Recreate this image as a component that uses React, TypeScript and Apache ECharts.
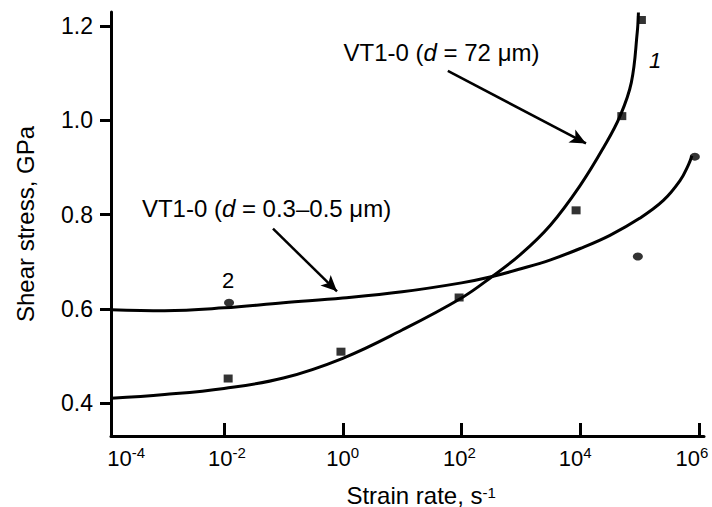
import React, { useEffect, useRef } from "react";
import * as echarts from "echarts";

// x values are log10(strain rate, s^-1); y values are shear stress, GPa
const xTickExponents = [-4, -2, 0, 2, 4, 6];
const yTickValues = [0.4, 0.6, 0.8, 1.0, 1.2];

// curve 1: VT1-0 (d = 72 um)
const curve1LogRate = [-3.9, -3, -2, -1, 0, 1, 2, 2.5, 3, 3.5, 4, 4.4, 4.67, 4.86, 4.96, 4.98];
const curve1Stress = [0.41, 0.418, 0.431, 0.453, 0.495, 0.555, 0.623, 0.667, 0.716, 0.778, 0.862, 0.944, 1.009, 1.08, 1.187, 1.229];

// curve 2: VT1-0 (d = 0.3-0.5 um)
const curve2LogRate = [-3.9, -3, -2, -1, 0, 1, 2, 2.5, 3, 3.5, 4, 4.5, 5, 5.4, 5.68, 5.82, 5.88];
const curve2Stress = [0.598, 0.596, 0.602, 0.613, 0.623, 0.636, 0.655, 0.668, 0.685, 0.704, 0.728, 0.756, 0.792, 0.83, 0.872, 0.905, 0.925];

// measured points
const squaresLogRate = [-1.93, -0.03, 1.96, 3.93, 4.7, 5.03];
const squaresStress = [0.452, 0.509, 0.624, 0.809, 1.009, 1.213];
const circlesLogRate = [-1.915, 4.97, 5.93];
const circlesStress = [0.613, 0.711, 0.923];

// annotation arrows (data coordinates: start, tip)
const arrowCoarse = [[1.77, 1.105], [4.097, 0.951]];
const arrowFine = [[-1.175, 0.77], [-0.097, 0.637]];

// horizontal nudge of each x tick label (px), as in the reference layout
const xLabelShift: Record<string, number> = { "-4": 21, "-2": 3, "0": 0, "2": -2, "4": -5, "6": -7 };

const FONT = "Liberation Sans, Arial, Helvetica, sans-serif";
const Y_MIN = 0.33;
const Y_MAX = 1.23;
const GRID_TOP = 12;
const GRID_BOTTOM = 71;
const FRAME_LEFT = 111;
const Y_TICK_LEN = 11;

export default function App() {
  const ref = useRef<HTMLDivElement>(null);
  useEffect(() => {
    if (!ref.current) return;
    const chart = echarts.init(ref.current, null, { renderer: "svg" });
    const pairs = (xs: number[], ys: number[]) => xs.map((x, i) => [x, ys[i]]);

    const xRich: Record<string, any> = {
      b: { fontSize: 22, lineHeight: 24, fontFamily: FONT, color: "#000", verticalAlign: "bottom" },
      s: { fontSize: 15, lineHeight: 14, fontFamily: FONT, color: "#000", verticalAlign: "top" },
    };
    xTickExponents.forEach((v, i) => {
      const sh = xLabelShift[String(v)] || 0;
      if (sh !== 0) xRich["g" + i] = { width: Math.abs(sh) * 2, fontSize: 10, lineHeight: 14 };
    });
    const xFormatter = (v: number) => {
      const r = Math.round(v);
      const i = xTickExponents.indexOf(r);
      const sh = xLabelShift[String(r)] || 0;
      const core = `{b|10}{s|${r}}`;
      if (sh > 0) return `{g${i}| }` + core;
      if (sh < 0) return core + `{g${i}| }`;
      return core;
    };

    const hiddenAxis = (gridIndex: number, min: number, max: number) => ({
      type: "value",
      gridIndex,
      min,
      max,
      show: false,
      splitLine: { show: false },
    });

    const annotationTexts: any[] = [
      {
        type: "text",
        id: "t72",
        x: 441.5,
        y: 52,
        style: {
          text: "VT1-0 ({i|d} = 72 μm)",
          fontSize: 24,
          fontFamily: FONT,
          fill: "#000",
          align: "center",
          verticalAlign: "middle",
          rich: { i: { fontSize: 24, fontFamily: FONT, fontStyle: "italic", fill: "#000" } },
        },
      },
      {
        type: "text",
        id: "tfine",
        x: 266.5,
        y: 208,
        style: {
          text: "VT1-0 ({i|d} = 0.3–0.5 μm)",
          fontSize: 24,
          fontFamily: FONT,
          fill: "#000",
          align: "center",
          verticalAlign: "middle",
          rich: { i: { fontSize: 24, fontFamily: FONT, fontStyle: "italic", fill: "#000" } },
        },
      },
      {
        type: "text",
        id: "t1",
        x: 655,
        y: 60,
        style: {
          text: "1",
          fontSize: 22,
          fontFamily: FONT,
          fontStyle: "italic",
          fill: "#000",
          align: "center",
          verticalAlign: "middle",
        },
      },
      {
        type: "text",
        id: "t2",
        x: 228,
        y: 280,
        style: {
          text: "2",
          fontSize: 22,
          fontFamily: FONT,
          fill: "#000",
          align: "center",
          verticalAlign: "middle",
        },
      },
    ];

    chart.setOption({
      animation: false,
      backgroundColor: "#ffffff",
      textStyle: { fontFamily: FONT },
      grid: [
        // plotting area
        { left: 105.25, right: 13, top: GRID_TOP, bottom: GRID_BOTTOM, outerBoundsMode: "none", containLabel: false },
        // axis frame
        { left: FRAME_LEFT, right: 8, top: GRID_TOP, bottom: GRID_BOTTOM, outerBoundsMode: "none", containLabel: false },
        // strip holding the y labels and tick marks
        { left: FRAME_LEFT - Y_TICK_LEN, right: 712 - FRAME_LEFT, top: GRID_TOP, bottom: GRID_BOTTOM, outerBoundsMode: "none", containLabel: false },
      ],
      xAxis: [
        {
          type: "value",
          gridIndex: 0,
          min: -4,
          max: 6,
          interval: 2,
          axisLine: { show: false },
          axisTick: {
            show: true,
            inside: true,
            length: 13,
            lineStyle: { color: "#000", width: 3 },
            customValues: xTickExponents.filter((v) => v > -4),
          },
          axisLabel: {
            customValues: xTickExponents,
            margin: 9,
            color: "#000",
            formatter: xFormatter,
            rich: xRich,
          },
          splitLine: { show: false },
          name: "{n|Strain rate, s}{p|-1}",
          nameLocation: "middle",
          nameGap: 49,
          nameTextStyle: {
            padding: [0, 0, 0, 38],
            rich: {
              n: { fontSize: 24, lineHeight: 22, fontFamily: FONT, color: "#000", verticalAlign: "bottom" },
              p: { fontSize: 15, lineHeight: 15, fontFamily: FONT, color: "#000", verticalAlign: "top" },
            },
          },
        },
        {
          type: "value",
          gridIndex: 1,
          min: 0,
          max: 1,
          axisLine: { show: true, lineStyle: { color: "#000", width: 3 } },
          axisTick: { show: false },
          axisLabel: { show: false },
          splitLine: { show: false },
        },
        hiddenAxis(2, 0, 1),
      ],
      yAxis: [
        hiddenAxis(0, Y_MIN, Y_MAX),
        {
          type: "value",
          gridIndex: 1,
          min: Y_MIN,
          max: Y_MAX,
          axisLine: { show: true, lineStyle: { color: "#000", width: 3 } },
          axisTick: { show: false },
          axisLabel: { show: false },
          splitLine: { show: false },
          name: "Shear stress, GPa",
          nameLocation: "middle",
          nameGap: 74,
          nameTextStyle: { fontSize: 24, fontFamily: FONT, color: "#000" },
        },
        {
          type: "value",
          gridIndex: 2,
          min: Y_MIN,
          max: Y_MAX,
          axisLine: { show: false },
          axisTick: { show: false, customValues: yTickValues },
          axisLabel: {
            customValues: yTickValues,
            margin: 7,
            fontSize: 23,
            fontFamily: FONT,
            color: "#000",
            formatter: (v: number) => v.toFixed(1),
          },
          // the tick marks: split lines across the 11px strip left of the axis
          splitLine: { show: true, lineStyle: { color: "#000", width: 3, type: "solid" } },
        },
      ],
      series: [
        {
          type: "line",
          name: "VT1-0 (d = 72 μm)",
          xAxisIndex: 0,
          yAxisIndex: 0,
          data: pairs(curve1LogRate, curve1Stress),
          smooth: 0.4,
          symbol: "none",
          lineStyle: { color: "#000", width: 3 },
          markLine: {
            silent: true,
            symbol: ["none", "arrow"],
            symbolSize: [11, 16],
            label: { show: false },
            lineStyle: { color: "#000", width: 2.5, type: "solid" },
            data: [
              [{ coord: arrowCoarse[0] }, { coord: arrowCoarse[1] }],
              [{ coord: arrowFine[0] }, { coord: arrowFine[1] }],
            ],
          },
        },
        {
          type: "line",
          name: "VT1-0 (d = 0.3–0.5 μm)",
          xAxisIndex: 0,
          yAxisIndex: 0,
          data: pairs(curve2LogRate, curve2Stress),
          smooth: 0.4,
          symbol: "none",
          lineStyle: { color: "#000", width: 3 },
        },
        {
          type: "scatter",
          xAxisIndex: 0,
          yAxisIndex: 0,
          data: pairs(squaresLogRate, squaresStress),
          symbol: "rect",
          symbolSize: [9, 8],
          itemStyle: { color: "#000" },
          z: 5,
        },
        {
          type: "scatter",
          xAxisIndex: 0,
          yAxisIndex: 0,
          data: pairs(circlesLogRate, circlesStress),
          symbol: "circle",
          symbolSize: [10, 8],
          itemStyle: { color: "#000" },
          z: 5,
        },
      ],
      graphic: annotationTexts,
    });

    return () => chart.dispose();
  }, []);
  return (
    <div
      ref={ref}
      style={{ position: "fixed", left: 0, top: 0, width: 712, height: 507, background: "#fff" }}
    />
  );
}
